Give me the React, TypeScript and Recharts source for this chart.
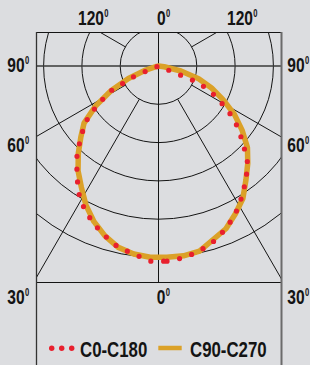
import {
  RadarChart,
  Radar,
  PolarGrid,
  PolarAngleAxis,
  PolarRadiusAxis,
} from "recharts";

// angle from nadir, going round to the right side first
const ANGLES = [
  0, 5, 10, 15, 20, 25, 30, 35, 40, 45, 50, 55, 60, 65, 70, 75, 80, 85,
  90, 95, 100, 105, 110, 115, 120, 125, 130, 135, 140, 145, 150, 155, 160, 165,
  170, 175, 180, 185, 190, 195, 200, 205, 210, 215, 220, 225, 230, 235, 240,
  245, 250, 255, 260, 265, 270, 275, 280, 285, 290, 295, 300, 305, 310, 315,
  320, 325, 330, 335, 340, 345, 350, 355,
];

const C0_C180 = [
  510, 505, 495, 480, 460, 435, 405, 375, 345, 300, 260, 215, 165, 115, 0, 0, 0, 0,
  0, 0, 0, 0, 0, 0, 0, 0, 0, 0, 0, 0, 0, 0, 0, 0,
  0, 0, 0, 0, 0, 0, 0, 0, 0, 0, 0, 0, 0, 0, 0,
  0, 0, 0, 0, 0, 0, 0, 0, 0, 65, 140, 190, 240, 275, 315,
  350, 390, 420, 445, 465, 485, 495, 510,
];

const C90_C270 = [
  500, 500, 495, 475, 460, 435, 410, 375, 345, 315, 275, 235, 190, 150, 110, 60, 15, 0,
  0, 0, 0, 0, 0, 0, 0, 0, 0, 0, 0, 0, 0, 0, 0, 0,
  0, 0, 0, 0, 0, 0, 0, 0, 0, 0, 0, 0, 0, 0, 0,
  0, 0, 0, 0, 0, 0, 0, 5, 35, 85, 140, 195, 245, 275, 310,
  345, 375, 410, 440, 465, 485, 495, 500,
];

const SERIES_NAMES = ["C0-C180", "C90-C270"];
const RINGS = [100, 200, 300, 400, 500];
const SPOKES = [30, 60, 120, 150, 210, 240, 300, 330];
const TOP_LABELS = ["120", "0", "120"];
const SIDE_LABELS = ["90", "60", "30"];
const BOTTOM_LABEL = "0";

const data = ANGLES.map((angle, i) => ({
  angle,
  c0: C0_C180[i],
  c90: C90_C270[i],
}));

const BG = "#dcdde0";
const RED = "#e8202e";
const ORANGE = "#dba128";
const INK = "#141414";
const FONT = '"Liberation Sans", Arial, sans-serif';

const PLOT_LEFT = 36;
const PLOT_TOP = 32;
const PLOT_W = 245;
const PLOT_H = 250;
const PX_PER_UNIT = 0.383;
const R_MAX = 700;
// recharts puts each category half a band past its tick, so back off by that
const HALF_BAND = 360 / ANGLES.length / 2;

const polarProps = {
  width: PLOT_W,
  height: PLOT_H,
  data,
  cx: 122.5,
  cy: 34,
  startAngle: -90 - HALF_BAND,
  endAngle: 270 - HALF_BAND,
  outerRadius: R_MAX * PX_PER_UNIT,
  margin: { top: 0, right: 0, bottom: 0, left: 0 },
};

function Deg({ x, y, text }: { x: number; y: number; text: string }) {
  return (
    <text
      transform={`translate(${x},${y}) scale(0.76,1)`}
      fontFamily={FONT}
      fontWeight={700}
      fontSize={20.5}
      fill={INK}
    >
      {text}
      <tspan fontSize={10} dx={0.5} dy={-7.6}>
        0
      </tspan>
    </text>
  );
}

function Axes() {
  return (
    <>
      <PolarAngleAxis dataKey="angle" tick={false} axisLine={false} />
      <PolarRadiusAxis domain={[0, R_MAX]} tick={false} axisLine={false} />
    </>
  );
}

export default function App() {
  const sideRows = [72, 152, 303.5];
  const topX = [78, 157, 227];

  return (
    <div
      style={{
        position: "absolute",
        left: 0,
        top: 0,
        width: 310,
        height: 365,
        background: BG,
        overflow: "hidden",
      }}
    >
      {/* spokes start at the first ring */}
      <div style={{ position: "absolute", left: PLOT_LEFT, top: PLOT_TOP }}>
        <RadarChart {...polarProps} innerRadius={RINGS[0] * PX_PER_UNIT}>
          <PolarGrid
            gridType="circle"
            polarAngles={SPOKES}
            polarRadius={RINGS.map((v) => v * PX_PER_UNIT)}
            stroke={INK}
            strokeWidth={1}
          />
          <Axes />
        </RadarChart>
      </div>

      <div style={{ position: "absolute", left: PLOT_LEFT, top: PLOT_TOP }}>
        <RadarChart {...polarProps} innerRadius={0}>
          <PolarGrid
            gridType="circle"
            polarAngles={[90, 270]}
            polarRadius={[]}
            stroke={INK}
            strokeWidth={1}
          />
          <PolarGrid
            gridType="circle"
            polarAngles={[0, 180]}
            polarRadius={[]}
            stroke="#3a3a3a"
            strokeWidth={1.6}
          />
          <Axes />
          <Radar
            name={SERIES_NAMES[1]}
            dataKey="c90"
            stroke={ORANGE}
            strokeWidth={5.5}
            strokeLinejoin="round"
            fill="none"
            isAnimationActive={false}
          />
          <Radar
            name={SERIES_NAMES[0]}
            dataKey="c0"
            stroke={RED}
            strokeWidth={5.2}
            strokeDasharray="0 12.8"
            strokeLinecap="round"
            fill="none"
            isAnimationActive={false}
          />
        </RadarChart>
      </div>

      <svg
        width={310}
        height={365}
        style={{ position: "absolute", left: 0, top: 0, pointerEvents: "none" }}
      >
        <line x1={36} y1={32.5} x2={281} y2={32.5} stroke={INK} strokeWidth={1.2} />
        <line x1={36} y1={282.5} x2={281} y2={282.5} stroke={INK} strokeWidth={1.2} />
        <line x1={36.5} y1={32} x2={36.5} y2={365} stroke="#333" strokeWidth={1.3} />
        <line x1={281.5} y1={32} x2={281.5} y2={365} stroke="#6b6b6b" strokeWidth={2} />

        {TOP_LABELS.map((t, i) => (
          <Deg key={`t${i}`} x={topX[i]} y={24.7} text={t} />
        ))}
        {SIDE_LABELS.map((t, i) => (
          <Deg key={`l${i}`} x={7.3} y={sideRows[i]} text={t} />
        ))}
        {SIDE_LABELS.map((t, i) => (
          <Deg key={`r${i}`} x={287.3} y={sideRows[i]} text={t} />
        ))}
        <Deg x={156.7} y={303.5} text={BOTTOM_LABEL} />

        {/* legend */}
        {[51.7, 61.7, 71.7].map((x) => (
          <circle key={x} cx={x} cy={348.3} r={2.7} fill={RED} />
        ))}
        <text
          transform="translate(80,356.7) scale(0.765,1)"
          fontFamily={FONT}
          fontWeight={700}
          fontSize={22}
          fill={INK}
        >
          {SERIES_NAMES[0]}
        </text>
        <line x1={158.3} y1={348} x2={181.7} y2={348} stroke={ORANGE} strokeWidth={4.5} />
        <text
          transform="translate(190,356.7) scale(0.765,1)"
          fontFamily={FONT}
          fontWeight={700}
          fontSize={22}
          fill={INK}
        >
          {SERIES_NAMES[1]}
        </text>
      </svg>
    </div>
  );
}
